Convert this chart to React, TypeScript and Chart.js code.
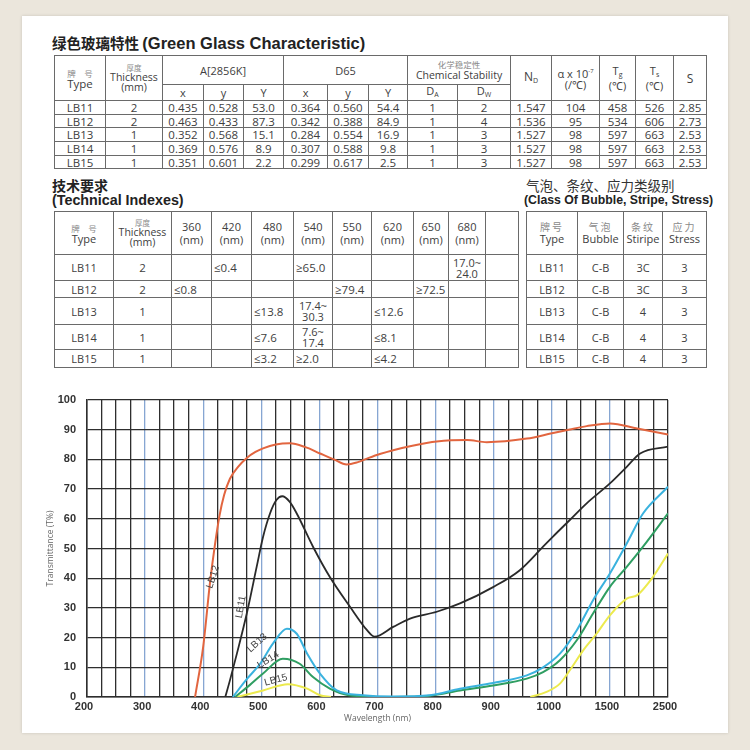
import React, { useEffect, useRef } from "react";
import { Chart, registerables } from "chart.js";
Chart.register(...registerables);

// ---------- chart data ----------
const xTickLabels = ["200", "300", "400", "500", "600", "700", "800", "900", "1000", "1500", "2500"];
const yMin = 0;
const yMax = 100;
const yStep = 10;

const lb12Wl = [386, 400, 412, 420, 428, 436, 446, 460, 475, 490, 503, 525, 549, 575, 601, 625, 647, 665, 685, 704, 727, 760, 802, 854, 888, 957, 1000, 1155, 1300, 1500, 1970, 2500];
const lb12T = [0, 17, 39, 51, 61, 68, 73.5, 77.5, 80.5, 82.5, 83.7, 85, 85.4, 84.2, 82, 80, 78.3, 79, 80.5, 81.8, 83.1, 84.6, 86, 86.5, 85.8, 87, 88.8, 90.1, 91.2, 92.1, 90.4, 88.4];

const lb11Wl = [438, 446, 458, 475, 492, 503, 515, 526, 536, 549, 561, 589, 618, 653, 682, 695, 727, 756, 802, 842, 899, 945, 985, 1010, 1155, 1300, 1500, 1790, 2020, 2500];
const lb11T = [0, 5.6, 14.6, 28.1, 43.8, 53.9, 61.8, 66.3, 67.6, 65.7, 61.8, 50.6, 40.4, 30.3, 22.5, 20.3, 23.6, 26.4, 28.7, 31.5, 37, 42.7, 50.6, 54, 59.6, 65.2, 71.9, 77.5, 82, 84.3];

const lb13Wl = [451, 475, 498, 520, 544, 561, 579, 601, 630, 675, 727, 790, 842, 899, 957, 985, 1070, 1215, 1355, 1500, 1790, 2070, 2500];
const lb13T = [0, 6, 11.2, 18, 23, 21.3, 14.6, 7.9, 2.2, 0.6, 0.2, 0.6, 2.8, 4.7, 7.3, 10, 14.6, 22.5, 32.6, 41.6, 51.7, 61.8, 70.8];

const lb14Wl = [455, 480, 503, 537, 566, 589, 618, 650, 727, 790, 842, 899, 957, 985, 1070, 1215, 1355, 1500, 1790, 2070, 2500];
const lb14T = [0, 4, 7.9, 12.9, 11.2, 6.7, 2.8, 0.6, 0, 0.4, 2.2, 3.9, 6.2, 8.4, 12.4, 19.1, 28.1, 37.1, 43.8, 50.6, 61.8];

const lb15Wl = [458, 503, 546, 579, 601, 620, 800, 963, 991, 1070, 1155, 1270, 1385, 1500, 1790, 1970, 2240, 2500];
const lb15T: (number | null)[] = [0, 2.2, 4.3, 2.8, 0.6, 0, null, 0, 1.7, 4.5, 9, 15.7, 21.3, 27.5, 33.1, 34.3, 40.4, 48.3];

const seriesNames = ["LB12", "LB11", "LB13", "LB14", "LB15"];
const seriesColors = ["#e2653f", "#2a2a2a", "#3ab2de", "#2f9e62", "#ecea4e"];

const curveLabelText = ["LB12", "LB11", "LB13", "LB14", "LB15"];
const curveLabelWl = [417, 465, 493, 512, 525];
const curveLabelT = [40.4, 30.3, 18.2, 12.5, 5.7];
const curveLabelAngle = [-72, -80, -42, -32, -15];

// ---------- table data ----------
const t1Type = ["LB11", "LB12", "LB13", "LB14", "LB15"];
const t1Thick = ["2", "2", "1", "1", "1"];
const t1Ax = ["0.435", "0.463", "0.352", "0.369", "0.351"];
const t1Ay = ["0.528", "0.433", "0.568", "0.576", "0.601"];
const t1AY = ["53.0", "87.3", "15.1", "8.9", "2.2"];
const t1Dx = ["0.364", "0.342", "0.284", "0.307", "0.299"];
const t1Dy = ["0.560", "0.388", "0.554", "0.588", "0.617"];
const t1DY = ["54.4", "84.9", "16.9", "9.8", "2.5"];
const t1DA = ["1", "1", "1", "1", "1"];
const t1DW = ["2", "4", "3", "3", "3"];
const t1ND = ["1.547", "1.536", "1.527", "1.527", "1.527"];
const t1Alpha = ["104", "95", "98", "98", "98"];
const t1Tg = ["458", "534", "597", "597", "597"];
const t1Ts = ["526", "606", "663", "663", "663"];
const t1S = ["2.85", "2.73", "2.53", "2.53", "2.53"];

const t2Wavelengths = ["360", "420", "480", "540", "550", "620", "650", "680"];
const t2Thick = ["2", "2", "1", "1", "1"];
const t2Values = [
  ["", "≤0.4", "", "≥65.0", "", "", "", "17.0~|24.0"],
  ["≤0.8", "", "", "", "≥79.4", "", "≥72.5", ""],
  ["", "", "≤13.8", "17.4~|30.3", "", "≤12.6", "", ""],
  ["", "", "≤7.6", "7.6~|17.4", "", "≤8.1", "", ""],
  ["", "", "≤3.2", "≥2.0", "", "≤4.2", "", ""],
];
const t3Bubble = ["C-B", "C-B", "C-B", "C-B", "C-B"];
const t3Stripe = ["3C", "3C", "4", "4", "4"];
const t3Stress = ["3", "3", "3", "3", "3"];

// ---------- helpers ----------
function wlToPos(w: number): number {
  if (w <= 1000) return (w - 200) / 100;
  if (w <= 1500) return 8 + (w - 1000) / 500;
  return 9 + (w - 1500) / 1000;
}

const CJK = "'Noto Sans CJK SC', sans-serif";
const SANS = "'Open Sans', 'Liberation Sans', sans-serif";
const BOLD = "'Liberation Sans', Arial, sans-serif";

const td: React.CSSProperties = {
  border: "1px solid #6a6a6a",
  padding: 0,
  textAlign: "center",
  verticalAlign: "middle",
  color: "#404040",
  fontFamily: SANS,
  fontSize: 11,
  lineHeight: "11px",
  whiteSpace: "nowrap",
  overflow: "visible",
};
const cn: React.CSSProperties = { fontFamily: CJK, fontSize: 8.5, color: "#8a8a8a", lineHeight: "10px", display: "block" };

const curveLabelPlugin = {
  id: "curveLabels",
  afterDatasetsDraw(chart: any) {
    const { ctx, scales } = chart;
    const xs = scales.x;
    const ys = scales.y;
    ctx.save();
    ctx.font = "10px 'Liberation Sans', Arial, sans-serif";
    ctx.fillStyle = "#444";
    ctx.textAlign = "center";
    ctx.textBaseline = "middle";
    curveLabelText.forEach((t, i) => {
      const px = xs.getPixelForValue(wlToPos(curveLabelWl[i]));
      const py = ys.getPixelForValue(curveLabelT[i]);
      ctx.save();
      ctx.translate(px, py);
      ctx.rotate((curveLabelAngle[i] * Math.PI) / 180);
      ctx.fillText(t, 0, 0);
      ctx.restore();
    });
    ctx.restore();
  },
};

function TransmittanceChart() {
  const ref = useRef<HTMLCanvasElement>(null);
  useEffect(() => {
    if (!ref.current) return;
    const wls = [lb12Wl, lb11Wl, lb13Wl, lb14Wl, lb15Wl];
    const vals: (number | null)[][] = [lb12T, lb11T, lb13T, lb14T, lb15T];
    const datasets = seriesNames.map((name, i) => ({
      label: name,
      data: wls[i].map((w, j) => ({ x: wlToPos(w), y: vals[i][j] })),
      borderColor: seriesColors[i],
      backgroundColor: seriesColors[i],
      borderWidth: i === 1 ? 1.8 : 2,
      pointRadius: 0,
      cubicInterpolationMode: "monotone" as const,
      fill: false,
      spanGaps: false,
      showLine: true,
    }));
    const chart = new Chart(ref.current, {
      type: "scatter",
      data: { datasets },
      options: {
        animation: false,
        responsive: false,
        layout: { padding: { top: 20, right: 42, left: 0, bottom: 0 } },
        plugins: { legend: { display: false }, tooltip: { enabled: false } },
        scales: {
          x: {
            type: "linear",
            min: 0,
            max: 10,
            afterFit: (s: any) => { s.height = 33; },
            ticks: {
              stepSize: 0.25,
              autoSkip: false,
              maxRotation: 0,
              padding: 3,
              labelOffset: -3,
              color: "#333",
              font: { family: BOLD, size: 11, weight: "bold" },
              callback: (v: any) => (Number.isInteger(v) ? xTickLabels[v] : ""),
            },
            grid: {
              drawTicks: false,
              tickLength: 0,
              lineWidth: 1.3,
              color: (c: any) => {
                const v = c.tick ? c.tick.value : 0;
                if (Number.isInteger(v) && v > 0 && v < 10) return "#86a6d2";
                return "#2e2e2e";
              },
            },
            border: { display: true, color: "#2e2e2e", width: 1.5 },
            title: {
              display: true,
              text: "Wavelength (nm)",
              color: "#666",
              font: { family: SANS, size: 8.5 },
              padding: { top: 0, bottom: 6 },
            },
          },
          y: {
            type: "linear",
            min: yMin,
            max: yMax,
            afterFit: (s: any) => { s.width = 57; },
            ticks: {
              stepSize: yStep,
              padding: 11,
              color: "#333",
              font: { family: BOLD, size: 11, weight: "bold" },
            },
            grid: { drawTicks: false, tickLength: 0, lineWidth: 1.3, color: "#2e2e2e" },
            border: { display: true, color: "#2e2e2e", width: 1.5 },
            title: {
              display: true,
              text: "Transmittance (T%)",
              color: "#666",
              font: { family: SANS, size: 8.5 },
              padding: { top: 15, bottom: 0 },
            },
          },
        },
      },
      plugins: [curveLabelPlugin],
    });
    return () => chart.destroy();
  }, []);
  return <canvas ref={ref} width={680} height={350} style={{ position: "absolute", left: 30, top: 380, width: 680, height: 350 }} />;
}

function Sub({ base, sub }: { base: string; sub: string }) {
  return (
    <span>
      {base}
      <sub style={{ fontSize: 7, verticalAlign: "-2px" }}>{sub}</sub>
    </span>
  );
}

function Table1() {
  const widths = [51, 57, 41, 40, 40, 44, 41, 39, 50, 53, 41, 48, 36, 38, 33];
  const cols = [t1Type, t1Thick, t1Ax, t1Ay, t1AY, t1Dx, t1Dy, t1DY, t1DA, t1DW, t1ND, t1Alpha, t1Tg, t1Ts, t1S];
  return (
    <table style={{ position: "absolute", left: 54, top: 55, borderCollapse: "collapse", tableLayout: "fixed", width: 652 }}>
      <colgroup>{widths.map((w, i) => <col key={i} style={{ width: w }} />)}</colgroup>
      <tbody>
        <tr style={{ height: 29 }}>
          <td rowSpan={2} style={td}><span style={cn}>牌　号</span><span style={{ fontSize: 11.5 }}>Type</span></td>
          <td rowSpan={2} style={{ ...td, lineHeight: "10px" }}><span style={{ ...cn, fontSize: 7.5, lineHeight: "8px" }}>厚度</span><span style={{ display: "block", fontSize: 10.5 }}>Thickness</span><span style={{ fontSize: 10.5 }}>(mm)</span></td>
          <td colSpan={3} style={td}>A[2856K]</td>
          <td colSpan={3} style={td}>D65</td>
          <td colSpan={2} style={td}><span style={cn}>化学稳定性</span><span style={{ fontSize: 10.5 }}>Chemical Stability</span></td>
          <td rowSpan={2} style={{ ...td, fontSize: 12 }}><Sub base="N" sub="D" /></td>
          <td rowSpan={2} style={td}><span style={{ display: "block" }}>α x 10<sup style={{ fontSize: 6, verticalAlign: "5px" }}>-7</sup></span><span>(/℃)</span></td>
          <td rowSpan={2} style={td}><span style={{ display: "block" }}><Sub base="T" sub="g" /></span><span>(℃)</span></td>
          <td rowSpan={2} style={td}><span style={{ display: "block" }}><Sub base="T" sub="s" /></span><span>(℃)</span></td>
          <td rowSpan={2} style={{ ...td, fontSize: 12 }}>S</td>
        </tr>
        <tr style={{ height: 16 }}>
          <td style={td}>x</td><td style={td}>y</td><td style={td}>Y</td>
          <td style={td}>x</td><td style={td}>y</td><td style={td}>Y</td>
          <td style={td}><Sub base="D" sub="A" /></td><td style={td}><Sub base="D" sub="W" /></td>
        </tr>
        {t1Type.map((_, r) => (
          <tr key={r} style={{ height: 13.7 }}>
            {cols.map((c, k) => <td key={k} style={{ ...td, fontSize: 11.5 }}>{c[r]}</td>)}
          </tr>
        ))}
      </tbody>
    </table>
  );
}

const rowHeights2 = [26, 17, 27, 25, 18];

function Cell2({ v }: { v: string }) {
  if (v.includes("|")) {
    const [a, b] = v.split("|");
    return (
      <td style={{ ...td, lineHeight: "11px" }}>
        <span style={{ display: "block" }}>{a}</span>
        <span style={{ display: "block" }}>{b}</span>
      </td>
    );
  }
  return <td style={{ ...td, fontSize: 11.5, textAlign: v ? "left" : "center", paddingLeft: v ? 2 : 0 }}>{v}</td>;
}

function Table2() {
  const widths = [59, 58, 40, 40, 42, 39, 39, 42, 35, 37, 33];
  return (
    <table style={{ position: "absolute", left: 54, top: 211, borderCollapse: "collapse", tableLayout: "fixed", width: 464 }}>
      <colgroup>{widths.map((w, i) => <col key={i} style={{ width: w }} />)}</colgroup>
      <tbody>
        <tr style={{ height: 43 }}>
          <td style={td}><span style={cn}>牌　号</span><span style={{ fontSize: 11 }}>Type</span></td>
          <td style={{ ...td, lineHeight: "10px" }}><span style={{ ...cn, fontSize: 7.5, lineHeight: "8px" }}>厚度</span><span style={{ display: "block", fontSize: 10.5 }}>Thickness</span><span style={{ fontSize: 10.5 }}>(mm)</span></td>
          {t2Wavelengths.map((w) => (
            <td key={w} style={{ ...td, lineHeight: "13px" }}><span style={{ display: "block" }}>{w}</span><span>(nm)</span></td>
          ))}
          <td style={td}></td>
        </tr>
        {t1Type.map((t, r) => (
          <tr key={r} style={{ height: rowHeights2[r] }}>
            <td style={td}>{t}</td>
            <td style={{ ...td, fontSize: 11.5 }}>{t2Thick[r]}</td>
            {t2Values[r].map((v, k) => <Cell2 key={k} v={v} />)}
            <td style={td}></td>
          </tr>
        ))}
      </tbody>
    </table>
  );
}

function Table3() {
  const widths = [51, 46, 39, 44];
  const head = [["牌号", "Type"], ["气泡", "Bubble"], ["条纹", "Stiripe"], ["应力", "Stress"]];
  return (
    <table style={{ position: "absolute", left: 526, top: 211, borderCollapse: "collapse", tableLayout: "fixed", width: 180 }}>
      <colgroup>{widths.map((w, i) => <col key={i} style={{ width: w }} />)}</colgroup>
      <tbody>
        <tr style={{ height: 43 }}>
          {head.map(([c, e]) => (
            <td key={e} style={{ ...td, lineHeight: "13px" }}><span style={{ ...cn, fontSize: 10, letterSpacing: 2 }}>{c}</span><span style={{ fontSize: 11 }}>{e}</span></td>
          ))}
        </tr>
        {t1Type.map((t, r) => (
          <tr key={r} style={{ height: rowHeights2[r] }}>
            <td style={td}>{t}</td>
            <td style={td}>{t3Bubble[r]}</td>
            <td style={td}>{t3Stripe[r]}</td>
            <td style={td}>{t3Stress[r]}</td>
          </tr>
        ))}
      </tbody>
    </table>
  );
}

export default function App() {
  return (
    <div style={{ position: "fixed", left: 0, top: 0, width: 750, height: 750, background: "#ebe6dc", overflow: "hidden" }}>
      <div style={{ position: "absolute", left: 22, top: 16, width: 706, height: 717, background: "#ffffff", boxShadow: "0 0 3px rgba(0,0,0,0.15)" }} />
      <div style={{ position: "absolute", left: 52, top: 34, whiteSpace: "nowrap", color: "#222", fontWeight: "bold", lineHeight: "18px" }}>
        <span style={{ fontFamily: CJK, fontSize: 14.5 }}>绿色玻璃特性 </span>
        <span style={{ fontFamily: BOLD, fontSize: 16.5 }}>(Green Glass Characteristic)</span>
      </div>
      <Table1 />
      <div style={{ position: "absolute", left: 52, top: 177, whiteSpace: "nowrap", color: "#222", fontWeight: "bold", fontSize: 14, lineHeight: "16px", fontFamily: CJK }}>技术要求</div>
      <div style={{ position: "absolute", left: 52, top: 192, whiteSpace: "nowrap", color: "#222", fontWeight: "bold", fontSize: 14.3, lineHeight: "16px", fontFamily: BOLD }}>(Technical Indexes)</div>
      <div style={{ position: "absolute", left: 526, top: 177, whiteSpace: "nowrap", color: "#333", fontSize: 13.5, lineHeight: "16px", fontFamily: CJK }}>气泡、条纹、应力类级别</div>
      <div style={{ position: "absolute", left: 524, top: 192, whiteSpace: "nowrap", color: "#222", fontWeight: "bold", fontSize: 13.5, lineHeight: "16px", fontFamily: BOLD, transform: "scaleX(0.91)", transformOrigin: "left" }}>(Class Of Bubble, Stripe, Stress)</div>
      <Table2 />
      <Table3 />
      <TransmittanceChart />
    </div>
  );
}
